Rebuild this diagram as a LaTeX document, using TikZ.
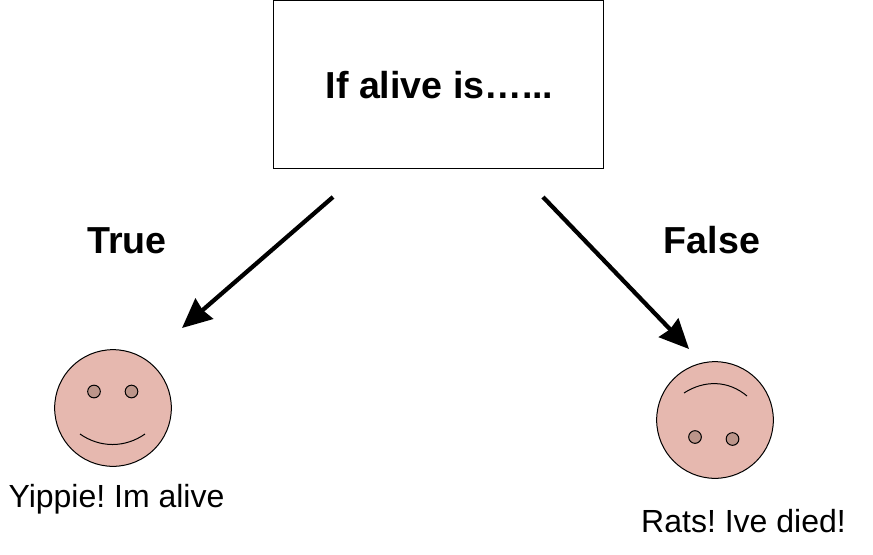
\documentclass[tikz,border=0pt]{standalone}
\usepackage{fontspec}
\setmainfont{Liberation Sans}
\usetikzlibrary{arrows.meta}
\frenchspacing
\definecolor{facepink}{HTML}{E6B8AF}
\definecolor{eyebrown}{HTML}{BC958A}
\tikzset{
  headtext/.style={font=\fontsize{28.2}{33}\selectfont\bfseries},
  captext/.style={font=\fontsize{24}{28}\selectfont},
  facecirc/.style={circle,draw=black,fill=facepink,line width=0.75pt,minimum size=87.5pt,inner sep=0pt},
  eyecirc/.style={circle,draw=black,fill=eyebrown,line width=0.75pt,minimum size=9.5pt,inner sep=0pt},
  bigarrow/.style={draw=black,line width=3.2pt,-{Stealth[length=22pt,width=20pt,inset=1.5pt]}},
}
\begin{document}
\begin{tikzpicture}[y=0.75pt, x=0.75pt,yscale=-1]
  \useasboundingbox (0,0) rectangle (873,554);
  \node[draw=black,line width=0.75pt,minimum width=247.5pt,minimum height=126pt,inner sep=0pt] (ifbox) at (438,84) {};
  \node[headtext] (iflabel) at (439.5,85) {If alive is…...};
  \coordinate (truefrom) at (333,197);
  \coordinate (trueto) at (182,328);
  \coordinate (falsefrom) at (543,197);
  \coordinate (falseto) at (689,349);
  \draw[bigarrow] (truefrom) -- (trueto);
  \draw[bigarrow] (falsefrom) -- (falseto);
  \node[headtext] (truelabel) at (127,240.5) {True};
  \node[headtext] (falselabel) at (712,240.5) {False};
  % smiling face
  \node[facecirc] (faceleft) at (113,408) {};
  \node[eyecirc] (eyeleftA) at (94,391.5) {};
  \node[eyecirc] (eyeleftB) at (131.5,391.5) {};
  \draw[line width=0.75pt] (80,434) .. controls (100,448) and (125,448) .. (145,434);
  \node[captext] (capleft) at (116.5,499) {Yippie! Im alive};
  % upside down face
  \node[facecirc] (faceright) at (715,420) {};
  \node[eyecirc] (eyerightA) at (695,437) {};
  \node[eyecirc] (eyerightB) at (732.5,439) {};
  \draw[line width=0.75pt] (684,393) .. controls (704,380) and (728,380) .. (747,396);
  \node[captext] (capright) at (743.5,521.5) {Rats! Ive died!};
\end{tikzpicture}
\end{document}
